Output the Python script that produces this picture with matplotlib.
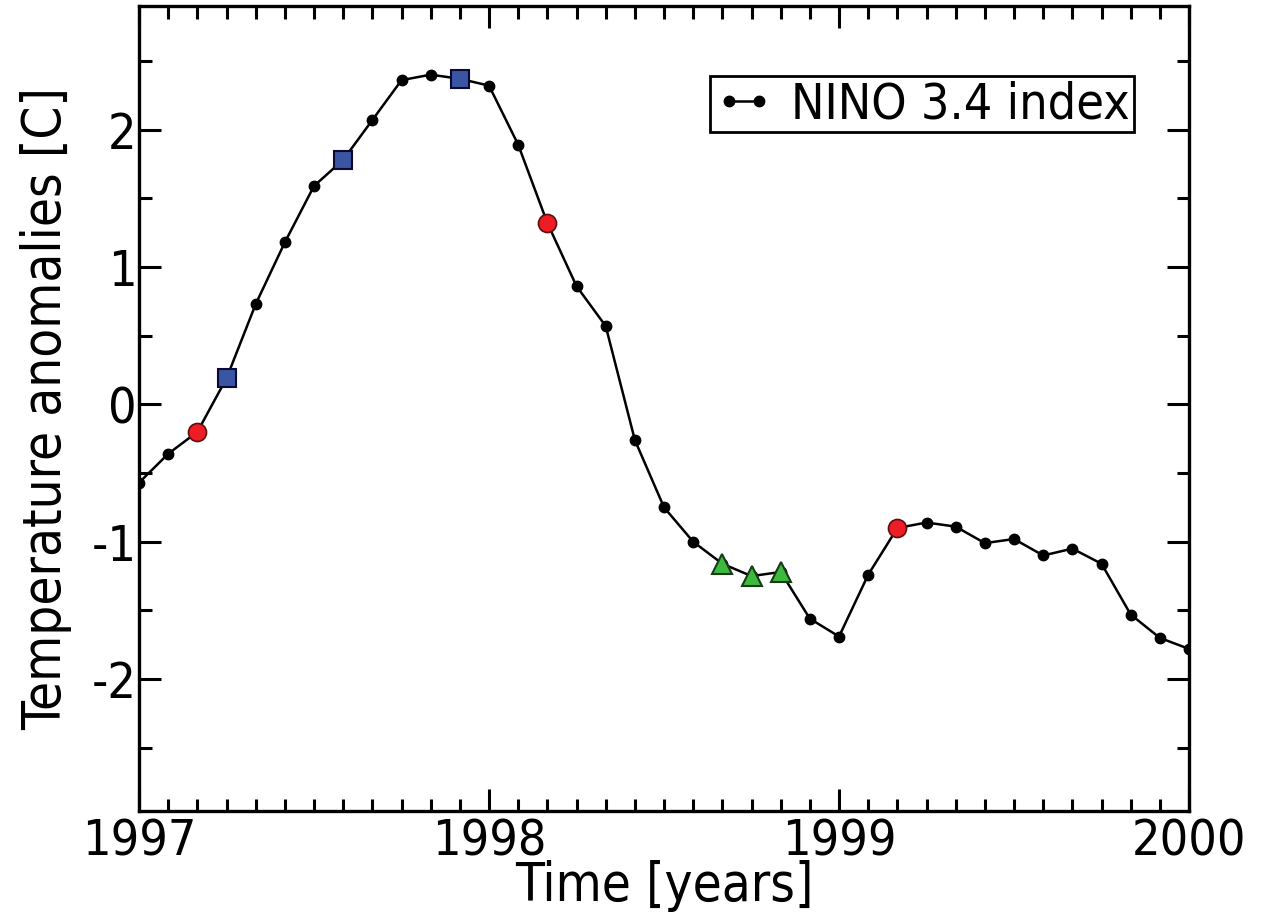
import numpy as np
import matplotlib
matplotlib.use("Agg")
import matplotlib.pyplot as plt
from matplotlib.ticker import MultipleLocator

# monthly NINO 3.4 anomalies, Jan 1997 .. Jan 2000
months = np.arange(37)
nino34 = [-0.57, -0.36, -0.20, 0.19, 0.73, 1.18, 1.59, 1.78, 2.07, 2.36, 2.40, 2.37,
          2.32, 1.89, 1.32, 0.86, 0.57, -0.26, -0.75, -1.00, -1.16, -1.25, -1.22, -1.56,
          -1.69, -1.24, -0.90, -0.86, -0.89, -1.01, -0.98, -1.10, -1.05, -1.16, -1.53,
          -1.70, -1.78]

red_idx = [2, 14, 26]
blue_idx = [3, 7, 11]
green_idx = [20, 21, 22]

plt.rcParams['font.family'] = 'DejaVu Sans'
plt.rcParams['font.stretch'] = 'condensed'

fig = plt.figure(figsize=(12.64, 9.19), dpi=100)
ax = fig.add_axes([0.110, 0.1175, 0.8307, 0.876])

t = 1997 + months / 12.0
y = np.array(nino34)

ax.plot(t, y, color='black', lw=1.8, marker='o', ms=7.5, mfc='black', mec='black',
        label='NINO 3.4 index', zorder=3)
ax.plot(t[red_idx], y[red_idx], 'o', ms=13, mfc='#ee1c24', mec='#5a1010', mew=1.2, zorder=4)
ax.plot(t[blue_idx], y[blue_idx], 's', ms=13, mfc='#3a55a4', mec='#0a0a30', mew=1.5, zorder=4)
ax.plot(t[green_idx], y[green_idx], '^', ms=14, mfc='#3dba3d', mec='#1a3a1a', mew=1.5, zorder=4)

ax.set_xlim(1997, 2000)
ax.set_ylim(-2.96, 2.9)
ax.xaxis.set_minor_locator(MultipleLocator(1 / 12.0))
ax.yaxis.set_minor_locator(MultipleLocator(0.5))
ax.set_xticks([1997, 1998, 1999, 2000])
ax.set_xticklabels(['1997', '1998', '1999', '2000'])
ax.set_yticks([-2, -1, 0, 1, 2])
ax.set_yticklabels(['-2', '-1', '0', '1', '2'])

ax.tick_params(which='both', direction='in', top=True, right=True, width=2.2,
               labelsize=36)
ax.tick_params(which='major', length=16)
ax.tick_params(which='minor', length=9)
ax.tick_params(axis='x', which='major', pad=5)
ax.tick_params(axis='y', which='major', pad=2)
for s in ax.spines.values():
    s.set_linewidth(2.4)

ax.set_xlabel('Time [years]', fontsize=38, labelpad=-4)
ax.set_ylabel('Temperature anomalies [C]', fontsize=38, labelpad=14)

leg = ax.legend(loc='upper right', bbox_to_anchor=(0.9476, 0.913), borderaxespad=0,
                fontsize=36, fancybox=False, framealpha=1, edgecolor='black',
                handlelength=1.2, handletextpad=0.35, borderpad=0.08, numpoints=2)
leg.get_frame().set_linewidth(2)

fig.savefig('out.png', dpi=100)
